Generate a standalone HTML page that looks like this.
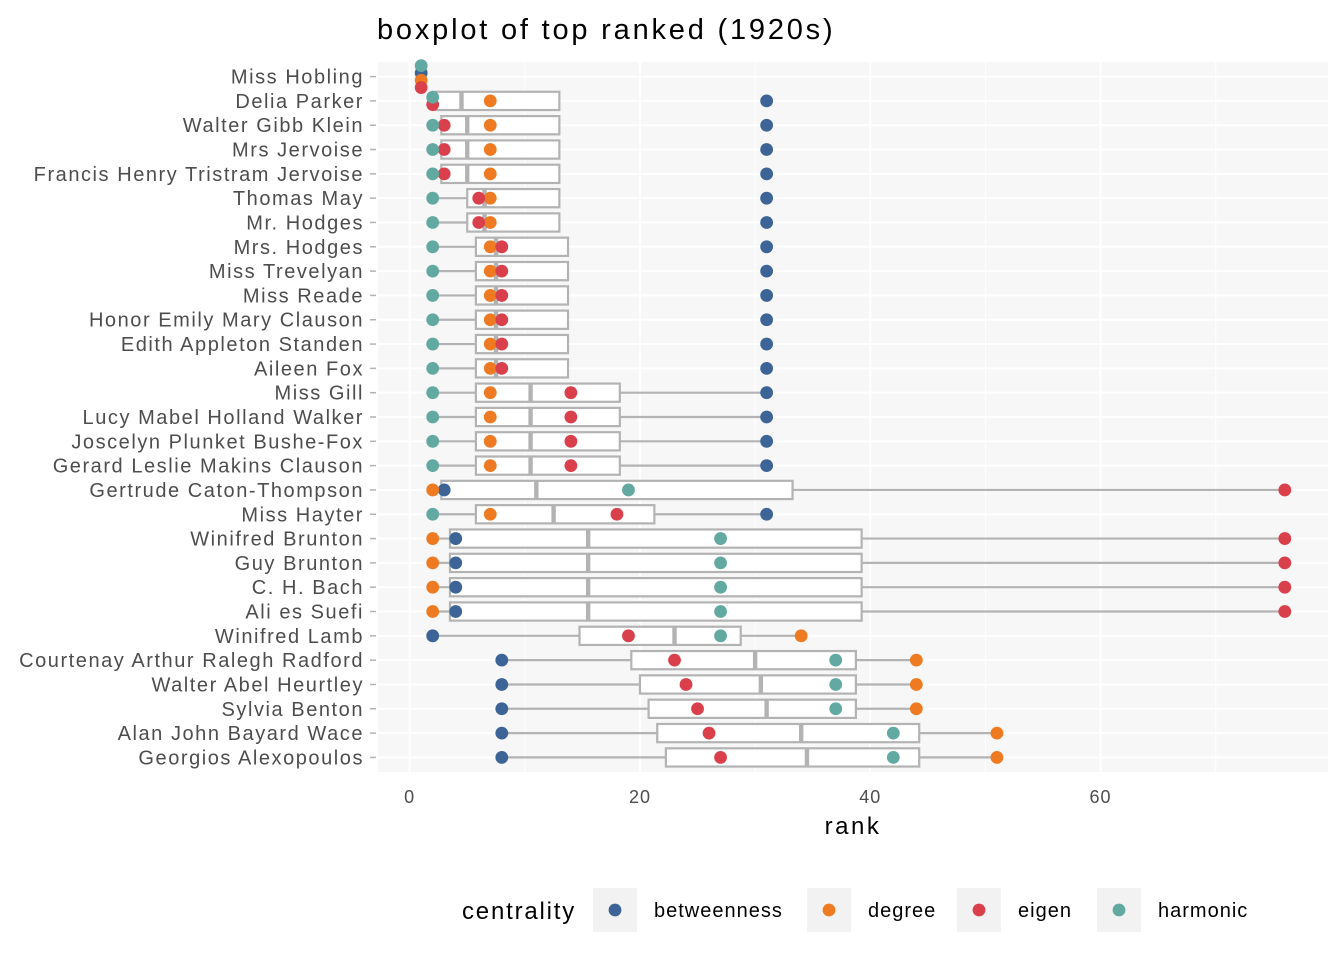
<!DOCTYPE html>
<html><head><meta charset="utf-8"><style>
body{margin:0;background:#fff;}
svg{display:block;font-family:"Liberation Sans",Arial,sans-serif;}
</style></head><body>
<svg id="chart" width="1344" height="960"></svg>
<script>
const names=["Miss Hobling","Delia Parker","Walter Gibb Klein","Mrs Jervoise","Francis Henry Tristram Jervoise","Thomas May","Mr. Hodges","Mrs. Hodges","Miss Trevelyan","Miss Reade","Honor Emily Mary Clauson","Edith Appleton Standen","Aileen Fox","Miss Gill","Lucy Mabel Holland Walker","Joscelyn Plunket Bushe-Fox","Gerard Leslie Makins Clauson","Gertrude Caton-Thompson","Miss Hayter","Winifred Brunton","Guy Brunton","C. H. Bach","Ali es Suefi","Winifred Lamb","Courtenay Arthur Ralegh Radford","Walter Abel Heurtley","Sylvia Benton","Alan John Bayard Wace","Georgios Alexopoulos"];
const betweenness=[1,31,31,31,31,31,31,31,31,31,31,31,31,31,31,31,31,3,31,4,4,4,4,2,8,8,8,8,8];
const degree=[1,7,7,7,7,7,7,7,7,7,7,7,7,7,7,7,7,2,7,2,2,2,2,34,44,44,44,51,51];
const eigen=[1,2,3,3,3,6,6,8,8,8,8,8,8,14,14,14,14,76,18,76,76,76,76,19,23,24,25,26,27];
const harmonic=[1,2,2,2,2,2,2,2,2,2,2,2,2,2,2,2,2,19,2,27,27,27,27,27,37,37,37,42,42];
const xTicks=[0,20,40,60];
const xMinor=[10,30,50,70];
const seriesNames=["betweenness","degree","eigen","harmonic"];
const colors={betweenness:"#3c6496",degree:"#ee7b22",eigen:"#d9404b",harmonic:"#62a9a1"};

const svg=document.getElementById('chart');
const NS="http://www.w3.org/2000/svg";
function mk(tag,attrs,parent){const e=document.createElementNS(NS,tag);for(const k in attrs)e.setAttribute(k,attrs[k]);(parent||svg).appendChild(e);return e;}
const L=378,R=1328,T=62,B=772;
const n=names.length;
const xmin=-2.75,xmax=79.75;
const X=v=>L+(v-xmin)/(xmax-xmin)*(R-L);
const step=(B-T)/(n+0.2);
const Y=i=>T+(0.6+i)*step;

const panel=mk('rect',{x:L,y:T,width:R-L,height:B-T,fill:'#f7f7f7'});


xMinor.forEach(v=>{const g=mk('line',{x1:X(v),x2:X(v),y1:T,y2:B,stroke:'#fff','stroke-width':1});

});
xTicks.forEach(v=>{const g=mk('line',{x1:X(v),x2:X(v),y1:T,y2:B,stroke:'#fff','stroke-width':2});

});
names.forEach((nm,i)=>{const g=mk('line',{x1:L,x2:R,y1:Y(i),y2:Y(i),stroke:'#fff','stroke-width':2});

});

function q(sorted,p){const h=(sorted.length-1)*p,lo=Math.floor(h),hi=Math.ceil(h);return sorted[lo]+(sorted[hi]-sorted[lo])*(h-lo);}
const bh=step*0.375;
names.forEach((nm,i)=>{
  const vals=[betweenness[i],degree[i],eigen[i],harmonic[i]].sort((a,b)=>a-b);
  const q1=q(vals,0.25),med=q(vals,0.5),q3=q(vals,0.75),iqr=q3-q1;
  const lo=Math.min(...vals.filter(v=>v>=q1-1.5*iqr)),hi=Math.max(...vals.filter(v=>v<=q3+1.5*iqr));
  const y=Y(i);
  const g=mk('g',{});
  
  
  mk('line',{x1:X(lo),x2:X(q1),y1:y,y2:y,stroke:'#b3b3b3','stroke-width':2.2},g);
  mk('line',{x1:X(q3),x2:X(hi),y1:y,y2:y,stroke:'#b3b3b3','stroke-width':2.2},g);
  mk('rect',{x:X(q1),y:y-bh,width:X(q3)-X(q1),height:2*bh,fill:'#fff',stroke:'#b3b3b3','stroke-width':2.2},g);
  mk('line',{x1:X(med),x2:X(med),y1:y-bh,y2:y+bh,stroke:'#b3b3b3','stroke-width':4.4},g);
});
const order=["harmonic","betweenness","degree","eigen"];
const data={betweenness,degree,eigen,harmonic};
names.forEach((nm,i)=>{
  const y=Y(i);
  const groups={};
  order.forEach(s=>{const v=data[s][i];(groups[v]=groups[v]||[]).push(s);});
  ["betweenness","degree","eigen","harmonic"].forEach(s=>{
    const v=data[s][i];const grp=groups[v];const k=grp.indexOf(s);
    const off=grp.length>1?(k-(grp.length-1)/2)*7.3:0;
    const c=mk('circle',{cx:X(v),cy:y+off,r:6.4,fill:colors[s]});
    
    
  });
  const t=mk('text',{x:364,y:y+7,'text-anchor':'end','font-size':20,'letter-spacing':1.55,fill:'#4d4d4d'});
  t.textContent=nm;
  
  
  const tk=mk('line',{x1:370,x2:376,y1:y,y2:y,stroke:'#b3b3b3','stroke-width':1.5});
  
  
});
xTicks.forEach(v=>{
  const t=mk('text',{x:X(v),y:803,'text-anchor':'middle','font-size':18,'letter-spacing':1,fill:'#4d4d4d'});
  t.textContent=v;
  
  
});
const xt=mk('text',{x:853,y:834,'text-anchor':'middle','font-size':24,'letter-spacing':2.5,fill:'#000'});
xt.textContent='rank';


const tt=mk('text',{x:377,y:39,'font-size':29,'letter-spacing':2.8,fill:'#000'});
tt.textContent='boxplot of top ranked (1920s)';


const lt=mk('text',{x:462,y:919,'font-size':24,'letter-spacing':1.8,fill:'#000'});
lt.textContent='centrality';


const keyX=[593,807,957,1097];
seriesNames.forEach((s,k)=>{
  const g=mk('g',{});
  
  
  mk('rect',{x:keyX[k],y:888,width:44,height:44,fill:'#f2f2f2'},g);
  mk('circle',{cx:keyX[k]+22,cy:910,r:6.4,fill:colors[s]},g);
  const t=mk('text',{x:keyX[k]+61,y:917,'font-size':20,'letter-spacing':1.0,fill:'#000'},g);
  t.textContent=s;
});
</script>
</body></html>
